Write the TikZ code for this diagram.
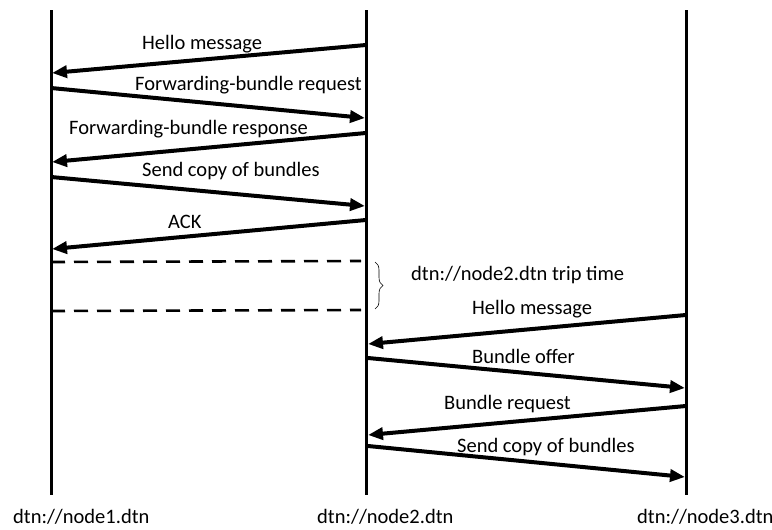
\documentclass[tikz,border=0pt]{standalone}
\usepackage{fontspec}
\setmainfont{Carlito}
\usetikzlibrary{arrows.meta,decorations.pathreplacing}
\begin{document}
\begin{tikzpicture}[x=1pt,y=-1pt,
  lifeline/.style={line width=3pt},
  msg/.style={line width=4pt,-{Triangle[length=15pt,width=12pt]}},
  gap/.style={line width=2.6pt,dash pattern=on 14pt off 9pt},
  lbl/.style={font=\fontsize{20.5}{24}\selectfont,inner sep=0pt,anchor=west,
              text height=13pt,text depth=4pt,yshift=-2pt},
  brace/.style={decorate,decoration={brace,amplitude=8pt},line width=0.6pt}]
\useasboundingbox (0,0) rectangle (772,530);

% lifelines
\coordinate (n1top) at (51,10);  \coordinate (n1bot) at (51,495);
\coordinate (n2top) at (366,10); \coordinate (n2bot) at (366,495);
\coordinate (n3top) at (686,10); \coordinate (n3bot) at (686,495);
\draw[lifeline] (n1top) -- (n1bot);
\draw[lifeline] (n2top) -- (n2bot);
\draw[lifeline] (n3top) -- (n3bot);
\node[lbl] (name1) at (13,517) {dtn://node1.dtn};
\node[lbl] (name2) at (317,517) {dtn://node2.dtn};
\node[lbl] (name3) at (637,517) {dtn://node3.dtn};

% exchange between node1 and node2
\coordinate (a1) at (366,45);  \coordinate (b1) at (52,73);
\coordinate (a2) at (51,88);   \coordinate (b2) at (365,118);
\coordinate (a3) at (366,133); \coordinate (b3) at (52,162);
\coordinate (a4) at (51,177);  \coordinate (b4) at (365,206);
\coordinate (a5) at (366,220); \coordinate (b5) at (52,249);
\draw[msg] (a1) -- (b1);
\draw[msg] (a2) -- (b2);
\draw[msg] (a3) -- (b3);
\draw[msg] (a4) -- (b4);
\draw[msg] (a5) -- (b5);
\node[lbl] (l1) at (142,43) {Hello message};
\node[lbl] (l2) at (135,84) {Forwarding-bundle request};
\node[lbl] (l3) at (69,128) {Forwarding-bundle response};
\node[lbl] (l4) at (142,170) {Send copy of bundles};
\node[lbl] (l5) at (168,222) {ACK};

% trip time interval
\coordinate (d1s) at (51,262); \coordinate (d1e) at (361,261);
\coordinate (d2s) at (51,311); \coordinate (d2e) at (361,310);
\draw[gap] (d1s) -- (d1e);
\draw[gap] (d2s) -- (d2e);
\coordinate (bt) at (375,262); \coordinate (bb) at (375,309);
\draw[brace] (bt) -- (bb);
\node[lbl] (trip) at (411,274) {dtn://node2.dtn trip time};

% exchange between node2 and node3
\coordinate (a6) at (686,315); \coordinate (b6) at (368,344);
\coordinate (a7) at (368,358); \coordinate (b7) at (685,388);
\coordinate (a8) at (686,406); \coordinate (b8) at (368,435);
\coordinate (a9) at (368,446); \coordinate (b9) at (685,477);
\draw[msg] (a6) -- (b6);
\draw[msg] (a7) -- (b7);
\draw[msg] (a8) -- (b8);
\draw[msg] (a9) -- (b9);
\node[lbl] (l6) at (472,308) {Hello message};
\node[lbl] (l7) at (472,357) {Bundle offer};
\node[lbl] (l8) at (444,403) {Bundle request};
\node[lbl] (l9) at (457,446) {Send copy of bundles};
\end{tikzpicture}
\end{document}
